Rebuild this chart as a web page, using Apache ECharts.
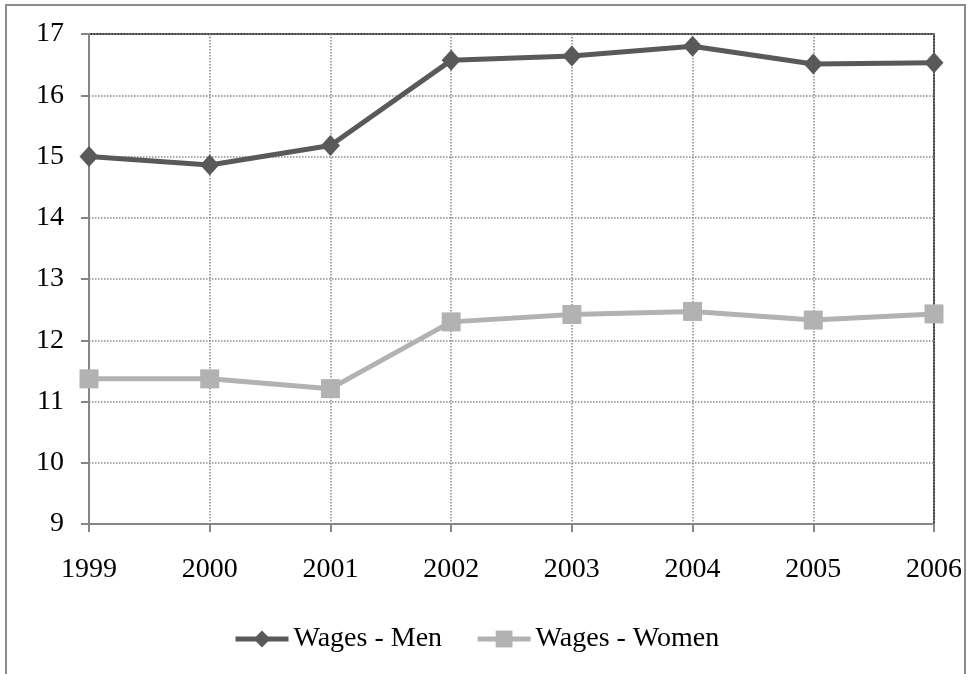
<!DOCTYPE html>
<html>
<head>
<meta charset="utf-8">
<script src="https://cdn.jsdelivr.net/npm/echarts@6/dist/echarts.min.js"></script>
<style>
  html, body { margin: 0; padding: 0; background: #fff; }
  #chart { width: 967px; height: 674px; }
</style>
</head>
<body>
<div id="chart"></div>
<script>
// Hourly wages by year, men vs. women
const years = ['1999', '2000', '2001', '2002', '2003', '2004', '2005', '2006'];
const wagesMen = [15.0, 14.86, 15.18, 16.57, 16.64, 16.8, 16.51, 16.53];
const wagesWomen = [11.37, 11.37, 11.21, 12.3, 12.42, 12.47, 12.33, 12.43];
const seriesNames = ['Wages - Men', 'Wages - Women'];

const font = '"Liberation Serif", "Times New Roman", serif';

const chart = echarts.init(document.getElementById('chart'), null, { renderer: 'canvas' });

chart.setOption({
  animation: false,
  backgroundColor: '#fff',
  textStyle: { fontFamily: font, color: '#000' },
  graphic: [{
    type: 'rect',
    shape: { x: 6, y: 5, width: 959, height: 720 },
    style: { fill: 'none', stroke: '#8c8c8c', lineWidth: 2 },
    silent: true,
    z: 0
  }],
  grid: {
    left: 89, top: 34, right: 33, bottom: 150,
    show: true,
    borderColor: '#000',
    borderWidth: 1.5,
    backgroundColor: 'transparent'
  },
  legend: {
    data: seriesNames,
    bottom: 16,
    left: 228,
    itemGap: 33,
    itemWidth: 53,
    itemHeight: 21,
    lineStyle: { width: 5 },
    textStyle: { fontFamily: font, fontSize: 28, color: '#000' }
  },
  xAxis: {
    type: 'category',
    data: years,
    boundaryGap: false,
    axisLine: { lineStyle: { color: '#868686', width: 2 } },
    axisTick: { show: true, length: 8, lineStyle: { color: '#868686', width: 2 } },
    axisLabel: { fontFamily: font, fontSize: 28, color: '#000', margin: 32 },
    splitLine: { show: true, lineStyle: { color: '#8a8a8a', type: 'dotted', width: 1.5 } }
  },
  yAxis: {
    type: 'value',
    min: 9, max: 17, interval: 1,
    axisLine: { show: true, lineStyle: { color: '#868686', width: 2 } },
    axisTick: { show: true, length: 8, lineStyle: { color: '#868686', width: 2 } },
    axisLabel: { fontFamily: font, fontSize: 28, color: '#000', margin: 25 },
    splitLine: { show: true, lineStyle: { color: '#8a8a8a', type: 'dotted', width: 1.5 } }
  },
  series: [
    {
      name: seriesNames[0],
      type: 'line',
      data: wagesMen,
      symbol: 'diamond',
      symbolSize: [19, 21],
      lineStyle: { color: '#595959', width: 5 },
      itemStyle: { color: '#595959' }
    },
    {
      name: seriesNames[1],
      type: 'line',
      data: wagesWomen,
      symbol: 'rect',
      symbolSize: 19,
      lineStyle: { color: '#b2b2b2', width: 5 },
      itemStyle: { color: '#b2b2b2' }
    }
  ]
});
</script>
</body>
</html>
